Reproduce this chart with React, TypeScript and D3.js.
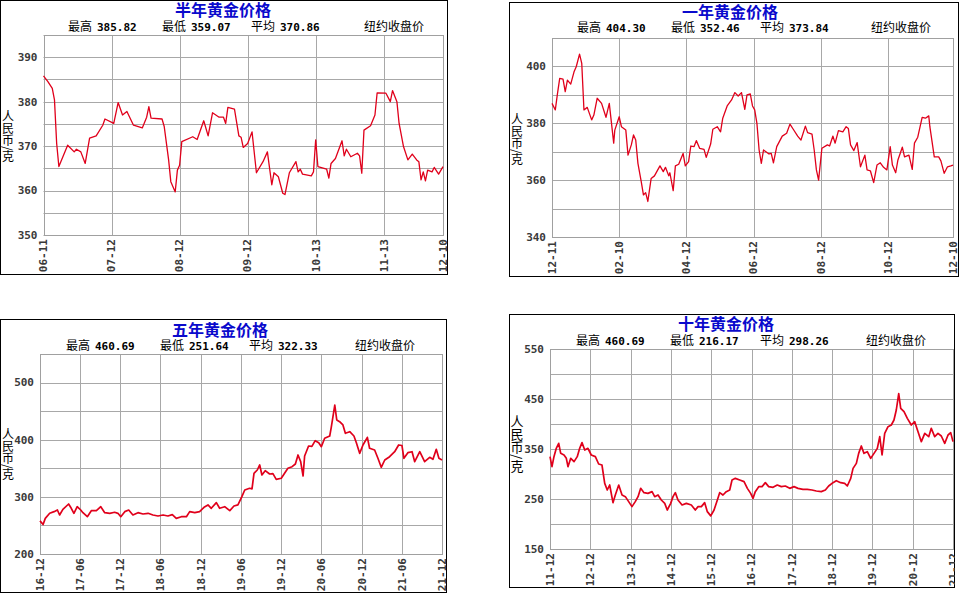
import * as d3 from 'd3'

// ---- data (day offset from first date, price in 元/克) ----
const halfDays = [0, 2, 4, 5, 6, 7, 11, 14, 15, 17, 19, 21, 24, 27, 28, 32, 34, 36, 38, 41, 45, 47, 48, 49, 54, 55, 57, 58, 60, 61, 62, 63, 68, 70, 73, 75, 77, 80, 82, 83, 84, 87, 89, 90, 91, 93, 95, 97, 100, 102, 104, 105, 107, 109, 110, 112, 115, 116, 117, 118, 122, 123, 124, 125, 129, 130, 131, 133, 136, 137, 138, 140, 143, 144, 145, 146, 149, 151, 152, 156, 158, 159, 161, 162, 164, 166, 168, 170, 171, 172, 173, 174, 175, 177, 178, 180, 182]
const halfPrices = [385.8, 384.5, 383.0, 380.4, 370.6, 365.4, 370.2, 368.7, 369.3, 368.7, 366.1, 371.8, 372.3, 374.7, 376.1, 375.1, 379.8, 377.0, 377.8, 374.7, 374.1, 376.5, 378.9, 376.3, 376.1, 374.4, 366.9, 362.0, 359.7, 364.6, 365.7, 371.0, 372.1, 371.5, 375.7, 372.3, 377.5, 376.5, 376.5, 375.1, 378.7, 378.3, 372.3, 372.0, 369.7, 370.6, 373.2, 364.0, 366.5, 368.7, 361.3, 364.0, 363.1, 359.4, 359.1, 364.0, 366.5, 364.2, 364.8, 363.7, 363.3, 364.2, 371.4, 365.4, 364.8, 362.8, 366.1, 367.2, 371.2, 367.8, 369.3, 367.6, 368.4, 367.8, 363.9, 373.6, 374.6, 377.0, 382.0, 381.9, 380.0, 382.5, 380.0, 375.1, 369.9, 366.9, 368.2, 366.9, 366.5, 362.4, 364.2, 362.2, 364.6, 364.2, 365.2, 363.7, 365.4]

const yearDays = [0, 3, 5, 7, 10, 12, 14, 17, 20, 22, 25, 27, 29, 32, 36, 38, 41, 45, 49, 52, 56, 57, 61, 63, 67, 69, 72, 74, 76, 78, 81, 83, 85, 87, 90, 93, 98, 101, 103, 106, 107, 110, 112, 115, 119, 121, 124, 126, 129, 131, 134, 138, 140, 144, 146, 150, 153, 155, 159, 163, 166, 169, 172, 175, 177, 180, 182, 184, 186, 188, 190, 192, 197, 199, 201, 204, 209, 213, 216, 219, 223, 226, 230, 232, 236, 238, 240, 242, 245, 250, 252, 255, 257, 260, 264, 267, 269, 271, 274, 277, 280, 284, 286, 289, 292, 295, 298, 301, 304, 307, 309, 312, 314, 318, 320, 324, 327, 329, 332, 336, 339, 342, 343, 347, 351, 353, 356, 359, 362, 364]
const yearPrices = [387.0, 384.7, 390.5, 395.8, 395.5, 391.1, 395.2, 393.8, 398.1, 399.9, 404.3, 401.1, 384.7, 385.6, 381.2, 382.9, 388.8, 387.0, 382.1, 387.0, 373.0, 377.6, 382.3, 378.8, 377.6, 368.8, 372.4, 375.9, 374.1, 365.9, 359.5, 354.8, 355.6, 352.5, 360.6, 361.5, 365.0, 363.0, 364.5, 361.5, 362.6, 356.3, 365.0, 365.6, 369.4, 365.0, 366.5, 372.0, 371.8, 373.9, 371.2, 370.8, 368.0, 372.7, 377.9, 378.8, 377.0, 381.8, 386.1, 388.2, 390.8, 389.6, 390.8, 384.9, 390.0, 390.3, 386.1, 384.7, 380.0, 370.6, 365.9, 370.6, 369.2, 369.4, 366.1, 371.8, 375.5, 376.5, 379.7, 377.9, 375.5, 374.1, 379.0, 376.7, 376.2, 370.6, 363.6, 360.0, 371.2, 372.4, 372.0, 375.5, 373.0, 377.4, 377.0, 378.8, 378.2, 372.4, 370.4, 373.2, 364.7, 368.8, 363.6, 363.3, 359.1, 365.3, 366.1, 364.5, 363.6, 371.8, 365.3, 362.6, 367.1, 371.6, 368.2, 368.8, 363.8, 373.0, 375.1, 382.1, 381.8, 382.6, 378.8, 368.2, 368.2, 366.8, 362.4, 364.7, 365.0, 365.3]

const fiveDays = [0, 14, 24, 44, 64, 79, 89, 104, 130, 142, 154, 169, 185, 195, 215, 233, 256, 276, 294, 317, 339, 354, 367, 385, 403, 422, 445, 468, 491, 513, 536, 559, 581, 601, 619, 642, 665, 680, 703, 725, 745, 763, 778, 801, 816, 839, 862, 881, 899, 917, 930, 952, 963, 972, 987, 998, 1008, 1023, 1043, 1058, 1073, 1096, 1111, 1126, 1145, 1160, 1172, 1184, 1195, 1202, 1220, 1235, 1250, 1266, 1278, 1293, 1316, 1323, 1339, 1348, 1361, 1376, 1387, 1407, 1426, 1437, 1452, 1467, 1487, 1497, 1520, 1535, 1550, 1566, 1588, 1611, 1629, 1644, 1653, 1671, 1690, 1702, 1725, 1747, 1770, 1785, 1800, 1812, 1826]
const fivePrices = [258.0, 251.6, 262.4, 271.2, 274.1, 277.0, 268.3, 278.2, 287.5, 280.0, 271.2, 282.8, 277.0, 272.3, 265.3, 275.8, 275.8, 282.8, 272.3, 271.2, 273.0, 271.2, 265.3, 274.1, 277.0, 268.3, 272.3, 270.0, 271.2, 268.3, 266.5, 268.3, 266.5, 268.9, 262.4, 265.3, 265.3, 274.1, 272.3, 274.1, 281.7, 285.8, 280.0, 289.8, 280.0, 282.8, 275.8, 284.0, 286.0, 300.3, 312.0, 315.0, 314.0, 341.2, 347.0, 355.8, 338.3, 345.8, 340.0, 340.6, 330.7, 332.5, 341.2, 350.0, 352.8, 357.5, 373.3, 361.6, 336.5, 371.5, 389.0, 388.4, 398.3, 394.8, 387.8, 402.5, 406.5, 421.7, 460.7, 434.5, 431.6, 425.8, 411.2, 414.0, 406.5, 394.8, 376.2, 390.8, 404.2, 385.0, 382.0, 367.5, 351.7, 364.5, 370.3, 379.0, 390.8, 389.9, 367.5, 377.3, 379.0, 361.6, 379.0, 361.6, 369.2, 365.7, 383.2, 367.5, 364.5]

const tenDays = [0, 18, 36, 57, 79, 97, 127, 148, 163, 188, 218, 247, 269, 290, 315, 344, 374, 411, 441, 471, 496, 519, 541, 571, 592, 623, 653, 683, 713, 743, 773, 798, 822, 852, 888, 925, 949, 979, 1009, 1040, 1063, 1094, 1115, 1136, 1160, 1197, 1236, 1281, 1317, 1342, 1372, 1402, 1426, 1457, 1487, 1517, 1538, 1568, 1598, 1629, 1650, 1680, 1720, 1759, 1789, 1819, 1840, 1861, 1892, 1922, 1952, 1982, 2022, 2060, 2097, 2133, 2173, 2212, 2248, 2293, 2332, 2375, 2414, 2459, 2496, 2526, 2565, 2595, 2635, 2671, 2695, 2726, 2747, 2777, 2798, 2822, 2846, 2876, 2907, 2937, 2967, 2989, 3010, 3034, 3064, 3094, 3118, 3139, 3161, 3179, 3209, 3239, 3275, 3306, 3336, 3366, 3397, 3433, 3456, 3487, 3517, 3547, 3578, 3608, 3632, 3653]
const tenPrices = [334.7, 314.7, 334.7, 351.3, 361.3, 341.3, 338.0, 331.3, 314.7, 331.3, 324.7, 334.7, 351.3, 362.7, 348.0, 351.3, 338.0, 334.7, 320.0, 318.0, 281.3, 268.0, 278.0, 242.7, 258.0, 278.0, 258.0, 254.7, 244.7, 234.7, 244.7, 254.7, 271.3, 262.7, 261.3, 264.7, 254.7, 258.0, 248.0, 241.3, 228.0, 241.3, 254.7, 262.7, 248.0, 238.0, 241.3, 238.0, 228.0, 234.7, 234.7, 242.7, 224.7, 216.2, 228.0, 248.0, 262.7, 258.0, 264.7, 268.0, 288.0, 291.3, 288.0, 284.7, 271.3, 261.3, 251.3, 264.7, 274.7, 274.7, 282.7, 274.7, 273.3, 278.0, 274.7, 276.0, 271.3, 274.7, 271.3, 269.3, 269.3, 268.0, 266.0, 264.7, 268.0, 276.0, 282.7, 286.7, 282.7, 281.3, 276.0, 291.3, 311.3, 321.3, 341.3, 356.0, 341.3, 344.7, 331.3, 341.3, 351.3, 374.7, 338.0, 381.3, 394.7, 398.0, 408.0, 428.0, 460.7, 431.3, 424.7, 411.3, 398.0, 404.7, 384.7, 364.7, 381.3, 374.7, 391.3, 374.7, 381.3, 376.0, 361.3, 378.0, 382.7, 364.7]

const halfTicks = ['2021-06-11', '2021-07-12', '2021-08-12', '2021-09-12', '2021-10-13', '2021-11-13', '2021-12-10']
const yearTicks = ['2020-12-11', '2021-02-10', '2021-04-12', '2021-06-12', '2021-08-12', '2021-10-12', '2021-12-10']
const fiveTicks = ['2016-12-10', '2017-06-10', '2017-12-10', '2018-06-10', '2018-12-10', '2019-06-10', '2019-12-10', '2020-06-10', '2020-12-10', '2021-06-10', '2021-12-10']
const tenTicks = ['2011-12-10', '2012-12-10', '2013-12-10', '2014-12-10', '2015-12-10', '2016-12-10', '2017-12-10', '2018-12-10', '2019-12-10', '2020-12-10', '2021-12-10']

const titles = ['半年黄金价格', '一年黄金价格', '五年黄金价格', '十年黄金价格']
const statLabels = ['最高', '最低', '平均']
const halfStats = ['385.82', '359.07', '370.86']
const yearStats = ['404.30', '352.46', '373.84']
const fiveStats = ['460.69', '251.64', '322.33']
const tenStats = ['460.69', '216.17', '298.26']

const parse = d3.timeParse('%Y-%m-%d')
const CJK = '"Noto Sans CJK SC", "Noto Sans", sans-serif'
const MONO = '"DejaVu Sans Mono", "Liberation Mono", monospace'

interface PanelCfg {
  box: [number, number, number, number]
  plot: { l: number; r: number; t: number; b: number }
  title: string
  titleX: number
  titleY: number
  statsY: number
  statX: number[]
  stats: string[]
  yDomain: [number, number]
  gridStep: number
  labelStep: number
  ticks: string[]
  fmt: string
  days: number[]
  prices: number[]
  unitY: number
  unitSize: number
  lineW: number
}

function Panel({ c, id }: { c: PanelCfg; id: string }) {
  const start = parse(c.ticks[0])!
  const end = parse(c.ticks[c.ticks.length - 1])!
  const x = d3.scaleTime().domain([start, end]).range([c.plot.l, c.plot.r])
  const y = d3.scaleLinear().domain(c.yDomain).range([c.plot.b, c.plot.t])
  const pts: [Date, number][] = c.days.map((d, i) => [d3.timeDay.offset(start, d), c.prices[i]])
  const line = d3.line<[Date, number]>().x(d => x(d[0])).y(d => y(d[1]))
  const grid = d3.range(c.yDomain[0], c.yDomain[1] + 0.001, c.gridStep)
  const labels = d3.range(c.yDomain[0], c.yDomain[1] + 0.001, c.labelStep)
  const fmt = d3.timeFormat(c.fmt)
  const [bx, by, bw, bh] = c.box
  const px = (v: number) => Math.round(v) + 0.5

  return (
    <g>
      <defs>
        <clipPath id={id}><rect x={bx} y={by} width={bw} height={bh} /></clipPath>
      </defs>
      <g clipPath={`url(#${id})`}>
        <rect x={bx + 0.5} y={by + 0.5} width={bw - 1} height={bh - 1} fill="#fff" stroke="#000" />
        <text x={c.titleX} y={c.titleY} textAnchor="middle" fontFamily={CJK} fontWeight="bold" fontSize={16} fill="#0a0acc">{c.title}</text>
        {statLabels.map((s, i) => (
          <g key={s}>
            <text x={c.statX[i]} y={c.statsY} fontFamily={CJK} fontSize={12} fill="#000">{s}</text>
            <text x={c.statX[i] + 29} y={c.statsY} fontFamily={MONO} fontWeight="bold" fontSize={11} fill="#000">{c.stats[i]}</text>
          </g>
        ))}
        <text x={c.statX[3]} y={c.statsY} fontFamily={CJK} fontSize={12} fill="#000">纽约收盘价</text>

        {grid.map(v => (
          <line key={'h' + v} x1={c.plot.l} x2={c.plot.r} y1={px(y(v))} y2={px(y(v))} stroke="#a8a8a8" />
        ))}
        {c.ticks.map(t => (
          <line key={'v' + t} x1={px(x(parse(t)!))} x2={px(x(parse(t)!))} y1={c.plot.t} y2={c.plot.b} stroke="#a8a8a8" />
        ))}
        <rect x={px(c.plot.l)} y={px(c.plot.t)} width={Math.round(c.plot.r) - Math.round(c.plot.l)} height={Math.round(c.plot.b) - Math.round(c.plot.t)} fill="none" stroke="#a0a0a0" />

        <path d={line(pts) ?? ''} fill="none" stroke="#e0001b" strokeWidth={c.lineW} strokeLinejoin="round" />

        {labels.map(v => (
          <text key={'yl' + v} x={c.plot.l - 6} y={y(v)} dy="0.35em" textAnchor="end" fontFamily={MONO} fontWeight="bold" fontSize={11} fill="#3a3a3a">{v}</text>
        ))}
        {c.ticks.map(t => {
          const tx = x(parse(t)!)
          return (
            <text key={'xl' + t} transform={`translate(${tx},${c.plot.b + 4}) rotate(-90)`} dy="0.35em" textAnchor="end" fontFamily={MONO} fontWeight="bold" fontSize={11} fill="#3a3a3a">{fmt(parse(t)!)}</text>
          )
        })}
        <text x={bx + 8} y={c.unitY} style={{ writingMode: 'vertical-rl' }} fontFamily={CJK} fontSize={c.unitSize} fill="#000">人民币/克</text>
      </g>
    </g>
  )
}

const panels: PanelCfg[] = [
  {
    box: [0, 0, 448, 275], plot: { l: 43.5, r: 443, t: 35, b: 235 },
    title: titles[0], titleX: 223, titleY: 16, statsY: 31, statX: [68, 162, 251, 364], stats: halfStats,
    yDomain: [350, 395], gridStep: 5, labelStep: 10, ticks: halfTicks, fmt: '%m-%d',
    days: halfDays, prices: halfPrices, unitY: 110, unitSize: 12, lineW: 1.3,
  },
  {
    box: [509, 2, 450, 275], plot: { l: 552, r: 953, t: 38, b: 237 },
    title: titles[1], titleX: 730, titleY: 18, statsY: 32, statX: [577, 671, 760, 871], stats: yearStats,
    yDomain: [340, 410], gridStep: 10, labelStep: 20, ticks: yearTicks, fmt: '%m-%d',
    days: yearDays, prices: yearPrices, unitY: 113, unitSize: 12, lineW: 1.3,
  },
  {
    box: [0, 319, 447, 274], plot: { l: 40, r: 442, t: 354, b: 554 },
    title: titles[2], titleX: 220, titleY: 336, statsY: 350, statX: [66, 160, 249, 355], stats: fiveStats,
    yDomain: [200, 550], gridStep: 50, labelStep: 100, ticks: fiveTicks, fmt: '%y-%m',
    days: fiveDays, prices: fivePrices, unitY: 428, unitSize: 12, lineW: 1.7,
  },
  {
    box: [509, 314, 446, 274], plot: { l: 550, r: 953, t: 349, b: 549 },
    title: titles[3], titleX: 726, titleY: 330, statsY: 345, statX: [576, 670, 760, 866], stats: tenStats,
    yDomain: [150, 550], gridStep: 50, labelStep: 100, ticks: tenTicks, fmt: '%y-%m',
    days: tenDays, prices: tenPrices, unitY: 415, unitSize: 13, lineW: 1.7,
  },
]

export default function App() {
  return (
    <svg width={962} height={597} style={{ position: 'absolute', left: 0, top: 0, background: '#fff' }}>
      {panels.map((p, i) => <Panel key={i} c={p} id={`clip${i}`} />)}
    </svg>
  )
}
